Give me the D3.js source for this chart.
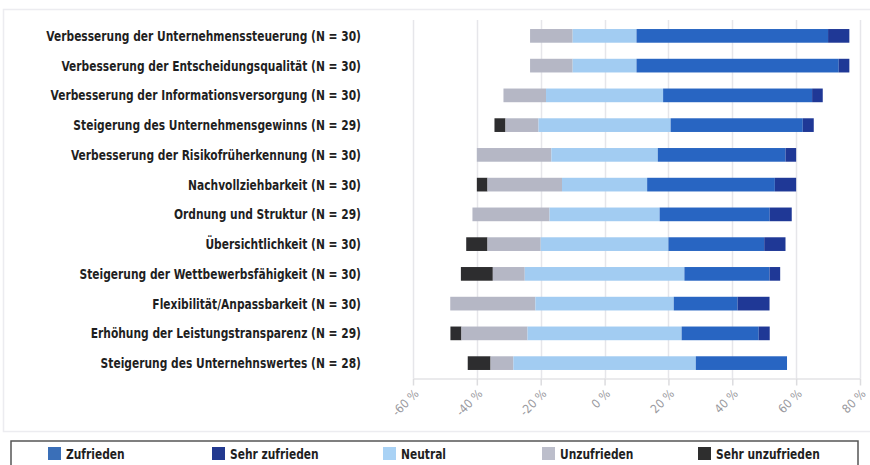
<!DOCTYPE html>
<html>
<head>
<meta charset="utf-8">
<script src="https://cdn.jsdelivr.net/npm/d3@7"></script>
<style>
  html, body { margin: 0; padding: 0; background: #fff; }
  svg { display: block; }
  .lbl { font-family: "DejaVu Sans Condensed", "DejaVu Sans", sans-serif; font-weight: bold; }
</style>
</head>
<body>
<svg id="chart" width="870" height="465"></svg>
<script>
// Satisfaction with reporting effects, counts of answers per statement
const categories = [
  "Verbesserung der Unternehmenssteuerung",
  "Verbesserung der Entscheidungsqualität",
  "Verbesserung der Informationsversorgung",
  "Steigerung des Unternehmensgewinns",
  "Verbesserung der Risikofrüherkennung",
  "Nachvollziehbarkeit",
  "Ordnung und Struktur",
  "Übersichtlichkeit",
  "Steigerung der Wettbewerbsfähigkeit",
  "Flexibilität/Anpassbarkeit",
  "Erhöhung der Leistungstransparenz",
  "Steigerung des Unternehnswertes"
];
const respondents     = [30, 30, 30, 29, 30, 30, 29, 30, 30, 30, 29, 28];
const sehrUnzufrieden = [0, 0, 0, 1, 0, 1, 0, 2, 3, 0, 1, 2];
const unzufrieden     = [4, 4, 4, 3, 7, 7, 7, 5, 3, 8, 6, 2];
const neutral         = [6, 6, 11, 12, 10, 8, 10, 12, 15, 13, 14, 16];
const zufrieden       = [18, 19, 14, 12, 12, 12, 10, 9, 8, 6, 7, 8];
const sehrZufrieden   = [2, 1, 1, 1, 1, 2, 2, 2, 1, 3, 1, 0];

const tickValues = [-60, -40, -20, 0, 20, 40, 60, 80];

// segment order along each bar, left to right
const segments = [
  { key: "Sehr unzufrieden", values: sehrUnzufrieden, color: "#2d2d2f" },
  { key: "Unzufrieden",      values: unzufrieden,     color: "#b5b7c5" },
  { key: "Neutral",          values: neutral,         color: "#a2ccf2" },
  { key: "Zufrieden",        values: zufrieden,       color: "#2865c2" },
  { key: "Sehr zufrieden",   values: sehrZufrieden,   color: "#1f3896" }
];
const legendOrder = ["Zufrieden", "Sehr zufrieden", "Neutral", "Unzufrieden", "Sehr unzufrieden"];
const legendColors = { "Zufrieden": "#3a6fb8", "Sehr zufrieden": "#22398f", "Neutral": "#a9d2f5", "Unzufrieden": "#bcbecb", "Sehr unzufrieden": "#2e2e2e" };

const svg = d3.select("#chart");

// light outer frame of the plot panel
svg.append("rect")
  .attr("x", 3.5).attr("y", 9.5).attr("width", 870).attr("height", 422)
  .attr("fill", "none").attr("stroke", "#ececf0").attr("stroke-width", 1.5);

const x = d3.scaleLinear().domain([-60, 80]).range([413, 860]);
const y = d3.scaleBand().domain(categories).range([21, 378]).paddingInner(0.54).paddingOuter(0.27);

// vertical grid lines
svg.append("g").selectAll("line").data(tickValues).join("line")
  .attr("x1", d => Math.round(x(d)) + 0.5).attr("x2", d => Math.round(x(d)) + 0.5)
  .attr("y1", 20).attr("y2", 378)
  .attr("stroke", "#e6e6ea").attr("stroke-width", 1.5);

// x axis
const xAxis = d3.axisBottom(x).tickValues(tickValues).tickSize(7).tickSizeOuter(0)
  .tickFormat(d => d + " %");
const gx = svg.append("g").attr("transform", "translate(0,378.5)").call(xAxis);
gx.select(".domain").attr("stroke", "#e3e3e6").attr("stroke-width", 1.5);
gx.selectAll(".tick line").attr("stroke", "#dcdcdf").attr("stroke-width", 1.5);
gx.selectAll(".tick text")
  .attr("class", "lbl")
  .attr("fill", "#9a9aa0")
  .style("font-weight", "normal")
  .attr("font-size", 12)
  .attr("text-anchor", "end")
  .attr("dy", null).attr("y", 0)
  .attr("transform", "translate(6,16) rotate(-45)");

// stacked diverging bars, neutral centred on 0
const rows = categories.map((c, i) => {
  const n = respondents[i];
  const pct = segments.map(s => s.values[i] / n * 100);
  let start = -(pct[0] + pct[1] + pct[2] / 2);
  return segments.map((s, j) => {
    const seg = { cat: c, color: s.color, x0: start, x1: start + pct[j] };
    start += pct[j];
    return seg;
  }).filter(d => d.x1 - d.x0 > 0);
});

svg.append("g").selectAll("g").data(rows).join("g")
  .selectAll("rect").data(d => d).join("rect")
  .attr("x", d => x(d.x0))
  .attr("width", d => x(d.x1) - x(d.x0))
  .attr("y", d => y(d.cat))
  .attr("height", y.bandwidth())
  .attr("fill", d => d.color);

// category labels, narrowed horizontally to a condensed look
const labels = svg.append("g").selectAll("text").data(categories).join("text")
  .attr("class", "lbl")
  .attr("x", 0).attr("y", 0)
  .attr("dy", "0.36em")
  .attr("text-anchor", "end")
  .attr("font-size", 14)
  .attr("fill", "#1f1f1f")
  .text((d, i) => `${d} (N = ${respondents[i]})`);
const widest = labels.nodes()[0].getComputedTextLength();
const squeeze = 315 / widest;
labels.attr("transform", d => `translate(361,${y(d) + y.bandwidth() / 2}) scale(${squeeze},1)`);

// legend
const legendX = [48, 212, 383, 542, 698];
svg.append("rect")
  .attr("x", 11).attr("y", 441).attr("width", 847).attr("height", 30)
  .attr("fill", "#fff").attr("stroke", "#555").attr("stroke-width", 1.5);
const lg = svg.append("g").selectAll("g").data(legendOrder).join("g")
  .attr("transform", (d, i) => `translate(${legendX[i]},447)`);
lg.append("rect").attr("width", 13).attr("height", 13).attr("fill", d => legendColors[d]);
lg.append("text")
  .attr("class", "lbl")
  .attr("transform", `translate(18,7) scale(${squeeze},1)`)
  .attr("dy", "0.36em")
  .attr("font-size", 14).attr("fill", "#1f1f1f")
  .text(d => d);
</script>
</body>
</html>
